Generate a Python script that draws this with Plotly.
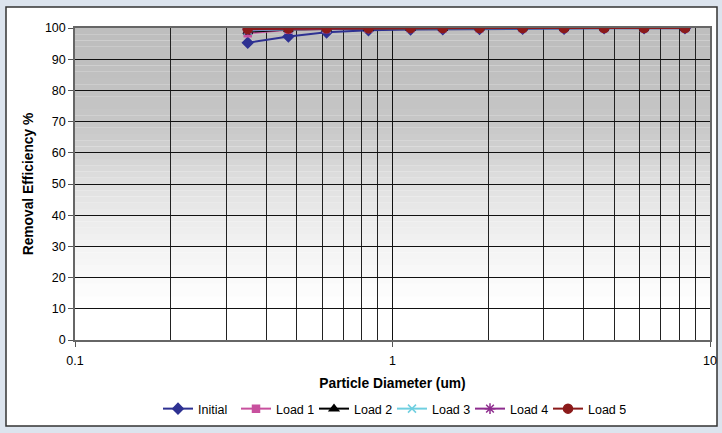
import plotly.graph_objects as go
import numpy as np

# ---- data ----
diameters = [0.35, 0.47, 0.62, 0.84, 1.14, 1.44, 1.88, 2.57, 3.47, 4.64, 6.2, 8.34]
initial = [95.3, 97.3, 98.6, 99.3, 99.5, 99.6, 99.7, 99.8, 99.8, 99.9, 99.9, 99.9]
load1 = [98.3, 99.4, 99.7, 99.8, 99.9, 99.9, 99.9, 100, 100, 100, 100, 100]
load2 = [98.8, 99.5, 99.7, 99.8, 99.9, 99.9, 100, 100, 100, 100, 100, 100]
load3 = [99.2, 99.6, 99.8, 99.9, 99.9, 100, 100, 100, 100, 100, 100, 100]
load4 = [99.5, 99.7, 99.8, 99.9, 100, 100, 100, 100, 100, 100, 100, 100]
load5 = [99.7, 99.8, 99.9, 99.9, 100, 100, 100, 100, 100, 100, 100, 100]
series_names = ["Initial", "Load 1", "Load 2", "Load 3", "Load 4", "Load 5"]
x_tick_vals = [0.1, 1, 10]
x_tick_text = ["0.1", "1", "10"]

series = [initial, load1, load2, load3, load4, load5]
colors = ["#2E3192", "#C8509E", "#000000", "#6FCFE0", "#8E2C8E", "#8B1A1A"]
symbols = ["diamond", "square", "triangle-up", "x-thin", "asterisk", "circle"]
msizes = [8, 7, 8, 8, 9, 9]

fig = go.Figure()
for name, ys, c, s, ms in zip(series_names, series, colors, symbols, msizes):
    fig.add_trace(go.Scatter(
        x=diameters, y=ys, name=name, mode="lines+markers",
        line=dict(color=c, width=2),
        marker=dict(symbol=s, size=ms, color=c, line=dict(color=c, width=1.5)),
    ))

# ---- styling ----
L, R, T, B = 75, 12, 28, 93
W, H = 722, 433
pw, ph = W - L - R, H - T - B

shapes = []
# outer chart area (white with dark border)
shapes.append(dict(type="rect", xref="paper", yref="paper",
                   x0=(6 - L) / pw, x1=(717 - L) / pw,
                   y0=(H - B - 426) / ph, y1=(H - B - 7) / ph,
                   fillcolor="white", line=dict(color="#333333", width=1.5),
                   layer="below"))
# gradient plot background
anchors_y = [0, 10, 20, 30, 40, 50, 60, 70, 80, 90, 100]
anchors_c = [255, 255, 250, 243, 234, 224, 210, 199, 194, 191, 190]
step = 2
for y0 in range(0, 100, step):
    v = int(round(np.interp(y0 + step / 2, anchors_y, anchors_c)))
    col = f"rgb({v},{v},{v})"
    shapes.append(dict(type="rect", xref="x domain", yref="y",
                       x0=0, x1=1, y0=y0, y1=y0 + step,
                       fillcolor=col, line=dict(width=0), layer="below"))

minor_vals = [m * 10 ** e for e in (-1, 0) for m in range(2, 10)]

fig.update_layout(
    width=W, height=H,
    margin=dict(l=L, r=R, t=T, b=B, autoexpand=False),
    paper_bgcolor="#DCE4EE",
    plot_bgcolor="rgba(0,0,0,0)",
    font=dict(family="Liberation Sans, Arial, sans-serif", size=12, color="black"),
    shapes=shapes,
    showlegend=True,
    legend=dict(orientation="h", x=158 / W, xref="container", xanchor="left",
                y=1 - 409 / H, yref="container", yanchor="middle",
                font=dict(size=12.5), bgcolor="rgba(0,0,0,0)",
                entrywidth=33, tracegroupgap=0),
    xaxis=dict(
        type="log", range=[-1, 1], automargin=False,
        tickvals=x_tick_vals, ticktext=x_tick_text,
        ticks="outside", ticklen=5, tickcolor="#555555",
        ticklabelstandoff=3,
        showgrid=True, gridcolor="#111111", gridwidth=1,
        minor=dict(tickvals=minor_vals, showgrid=True, gridcolor="#222222", gridwidth=1, ticks=""),
        showline=True, linecolor="#666666", linewidth=1.5, mirror=True,
        zeroline=False,
        title=dict(text="<b>Particle Diameter (um)</b>", font=dict(size=13.8), standoff=12),
        tickfont=dict(size=12.5),
    ),
    yaxis=dict(
        range=[0, 100], dtick=10, automargin=False,
        ticks="outside", ticklen=5, tickcolor="#555555",
        showgrid=True, gridcolor="#111111", gridwidth=1,
        showline=True, linecolor="#666666", linewidth=1.5, mirror=True,
        zeroline=False,
        title=dict(text="<b>Removal Efficiency %</b>", font=dict(size=13.8), standoff=8),
        tickfont=dict(size=12.5),
    ),
)

fig.write_html("out.html", config={"displayModeBar": False},
               post_script="document.body.style.margin='0';")
